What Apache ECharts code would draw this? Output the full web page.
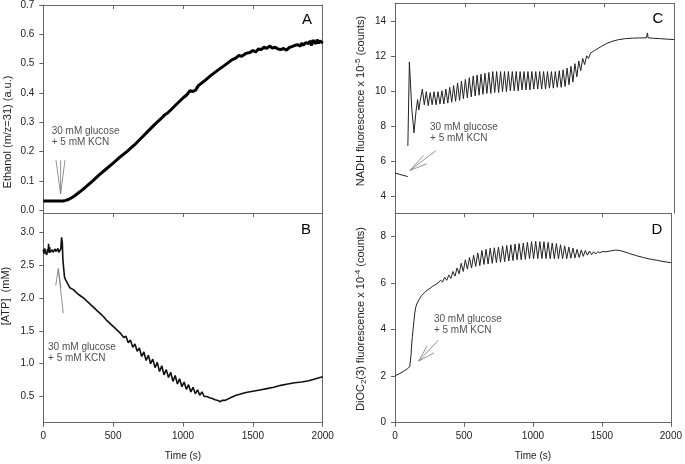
<!DOCTYPE html>
<html><head><meta charset="utf-8">
<script src="https://cdn.jsdelivr.net/npm/echarts@6/dist/echarts.min.js"></script>
<style>html,body{margin:0;padding:0;background:#fff}#c{width:685px;height:464px}</style>
</head><body><div id="c"></div>
<script>
const FONT = "'Liberation Sans', Arial, sans-serif";
const panelLetters = ['A', 'B', 'C', 'D'];
const annotationText = '30 mM glucose\n+ 5 mM KCN';
const timeTicks = [0, 500, 1000, 1500, 2000];

// Panel A: ethanol (m/z=31)
const ethanol = [[0,0.032],[50,0.032],[100,0.032],[140,0.032],[160,0.034],[180,0.037],[200,0.042],[225,0.05],[250,0.059],[275,0.068],[300,0.078],[350,0.099],[400,0.121],[450,0.141],[500,0.161],[550,0.182],[600,0.201],[650,0.222],[700,0.246],[750,0.27],[800,0.294],[850,0.316],[870,0.326],[880,0.322],[890,0.332],[900,0.337],[950,0.36],[1000,0.383],[1030,0.395],[1050,0.408],[1070,0.405],[1090,0.41],[1110,0.425],[1150,0.44],[1200,0.46],[1250,0.478],[1300,0.495],[1350,0.513],[1380,0.52],[1400,0.528],[1420,0.525],[1450,0.535],[1480,0.538],[1500,0.545],[1520,0.54],[1540,0.55],[1560,0.548],[1580,0.556],[1600,0.552],[1620,0.56],[1640,0.553],[1660,0.556],[1680,0.55],[1700,0.548],[1720,0.552],[1740,0.546],[1760,0.555],[1780,0.558],[1800,0.562],[1820,0.565],[1840,0.56],[1850,0.57],[1860,0.563],[1880,0.572],[1900,0.568],[1910,0.578],[1920,0.562],[1930,0.58],[1940,0.575],[1950,0.568],[1960,0.582],[1970,0.57],[1980,0.578],[1990,0.572],[2000,0.57]];

// Panel B: [ATP] (mM)
const atp = [[0,2.74],[5,2.68],[10,2.76],[15,2.7],[20,2.73],[25,2.66],[30,2.75],[35,2.71],[38,2.83],[42,2.69],[45,2.78],[50,2.7],[55,2.73],[60,2.67],[65,2.74],[70,2.7],[75,2.72],[80,2.68],[85,2.75],[90,2.71],[95,2.73],[100,2.69],[105,2.76],[110,2.7],[115,2.72],[125,2.75],[131,2.93],[136,2.85],[140,2.6],[146,2.45],[152,2.32],[160,2.28],[170,2.25],[180,2.2],[190,2.16],[200,2.16],[215,2.13],[230,2.1],[250,2.06],[270,2.03],[290,2.0],[310,1.96],[330,1.92],[350,1.88],[370,1.84],[390,1.8],[410,1.76],[430,1.72],[450,1.67],[470,1.63],[490,1.59],[510,1.55],[530,1.51],[550,1.47],[560,1.47],[576,1.40],[592,1.42],[608,1.32],[624,1.36],[640,1.25],[656,1.30],[672,1.19],[688,1.24],[704,1.11],[720,1.18],[736,1.05],[752,1.13],[768,1.00],[784,1.07],[800,0.94],[816,1.02],[832,0.88],[848,0.97],[864,0.83],[880,0.91],[896,0.79],[912,0.87],[928,0.73],[944,0.82],[960,0.69],[976,0.77],[992,0.65],[1008,0.72],[1024,0.61],[1040,0.68],[1056,0.57],[1072,0.64],[1088,0.54],[1104,0.60],[1120,0.52],[1136,0.57],[1152,0.50],[1170,0.5],[1190,0.48],[1210,0.47],[1230,0.45],[1250,0.44],[1265,0.42],[1280,0.44],[1290,0.42],[1300,0.44],[1320,0.46],[1340,0.48],[1360,0.5],[1380,0.52],[1400,0.53],[1450,0.56],[1500,0.58],[1550,0.6],[1600,0.62],[1650,0.64],[1700,0.67],[1750,0.69],[1800,0.71],[1850,0.72],[1900,0.74],[1950,0.77],[2000,0.8]];

// Panel C: NADH fluorescence x 1e-5
const nadhPre = [[0,5.3],[91,5.1]];
const nadh = [[92,6.85],[103,11.65],[120,9.0],[136,7.6],[150,8.8],[162,9.5],[170,8.9],[180,9.4],[196,10.1],[210,9.2],[224,9.95],[238,9.15],[252,9.9],[266,9.2],[280,9.95],[294,9.2],[308,9.95],[322,9.25],[336,10.0],[350,9.25],[364,10.1],[378,9.3],[392,10.2],[406,9.35],[420,10.3],[434,9.4],[448,10.45],[462,9.45],[476,10.55],[490,9.55],[504,10.65],[518,9.6],[532,10.75],[546,9.65],[560,10.85],[574,9.7],[588,10.9],[602,9.75],[616,10.95],[630,9.8],[644,11.0],[658,9.85],[672,11.05],[686,9.85],[700,11.1],[714,9.9],[728,11.1],[742,9.9],[756,11.1],[770,9.95],[784,11.1],[798,9.95],[812,11.1],[826,10.0],[840,11.1],[854,10.0],[868,11.1],[882,10.0],[896,11.1],[910,10.05],[924,11.1],[938,10.05],[952,11.1],[966,10.05],[980,11.1],[994,10.1],[1008,11.1],[1022,10.1],[1036,11.1],[1050,10.1],[1064,11.1],[1078,10.1],[1092,11.1],[1106,10.15],[1120,11.1],[1134,10.15],[1148,11.1],[1162,10.2],[1176,11.15],[1190,10.2],[1204,11.2],[1218,10.25],[1232,11.3],[1246,10.35],[1260,11.4],[1274,10.5],[1288,11.55],[1302,10.8],[1316,11.7],[1330,11.15],[1344,11.85],[1358,11.5],[1372,12.0],[1386,11.85],[1400,12.15],[1414,12.05],[1428,12.3],[1442,12.25],[1460,12.45],[1480,12.55],[1520,12.72],[1560,12.84],[1600,12.92],[1650,12.98],[1700,13.01],[1750,13.02],[1800,13.03],[1808,13.3],[1812,13.03],[1850,13.0],[1900,12.98],[1950,12.95],[2000,12.93]];

// Panel D: DiOC2(3) fluorescence x 1e-4
const dioc = [[0,2.02],[30,2.1],[60,2.2],[90,2.32],[107,2.41],[112,2.45],[116,2.9],[120,3.3],[126,3.7],[131,4.0],[137,4.35],[143,4.7],[150,4.95],[158,5.1],[167,5.15],[175,5.3],[183,5.38],[191,5.45],[200,5.5],[215,5.6],[225,5.65],[239,5.72],[255,5.78],[270,5.85],[290,5.92],[311,6.0],[330,6.12],[345,6.05],[360,6.25],[375,6.12],[390,6.35],[405,6.2],[420,6.5],[435,6.3],[450,6.65],[465,6.4],[480,6.85],[495,6.5],[510,7.0],[525,6.6],[540,7.1],[555,6.65],[570,7.2],[585,6.72],[600,7.3],[615,6.75],[630,7.4],[645,6.8],[660,7.45],[675,6.82],[690,7.5],[705,6.85],[720,7.52],[735,6.88],[750,7.55],[765,6.9],[780,7.6],[795,6.92],[810,7.62],[825,6.95],[840,7.65],[855,6.97],[870,7.68],[885,7.0],[900,7.7],[915,7.0],[930,7.72],[945,7.02],[960,7.75],[975,7.05],[990,7.78],[1005,7.05],[1020,7.8],[1035,7.05],[1050,7.78],[1065,7.05],[1080,7.78],[1095,7.05],[1110,7.75],[1125,7.05],[1140,7.72],[1155,7.05],[1170,7.7],[1185,7.05],[1200,7.65],[1215,7.05],[1230,7.6],[1245,7.05],[1260,7.55],[1275,7.07],[1290,7.5],[1305,7.08],[1320,7.45],[1335,7.1],[1350,7.42],[1365,7.15],[1380,7.4],[1395,7.2],[1410,7.38],[1425,7.22],[1440,7.35],[1455,7.25],[1470,7.35],[1485,7.3],[1500,7.35],[1530,7.35],[1560,7.38],[1600,7.42],[1630,7.4],[1660,7.35],[1700,7.27],[1750,7.18],[1800,7.1],[1850,7.03],[1900,6.98],[1950,6.92],[2000,6.88]];

// Arrows: tip first, then the three stroke ends
const arrowA = [[124,0.056],[124,0.171],[91,0.171],[155,0.171]];
const arrowB = [[107,2.45],[143,1.77],[89,2.19],[127,2.15]];
const arrowC = [[107,5.45],[292,6.58],[203,6.29],[227,5.83]];
const arrowD = [[172,2.65],[315,3.55],[232,3.30],[282,3.0]];
// Annotation anchor (left edge, vertical middle of the two lines)
const noteA = [60, 0.252];
const noteB = [34, 1.16];
const noteC = [251, 7.62];
const noteD = [282, 4.22];

const grids = [
  {left: 43.3, top: 4, width: 279.4, height: 209},
  {left: 43.3, top: 213, width: 279.4, height: 209.7},
  {left: 395, top: 3.3, width: 279.3, height: 210},
  {left: 395, top: 213.3, width: 279.3, height: 209.4}
];
const AX = '#666';
const TXT = '#222';

const xAxes = [], yAxes = [];
grids.forEach((g, i) => {
  const bottomShown = (i === 1 || i === 3);
  xAxes.push({
    type: 'value', gridIndex: i, position: 'bottom', min: timeTicks[0], max: timeTicks[timeTicks.length - 1],
    interval: timeTicks[1] - timeTicks[0],
    show: bottomShown,
    axisLine: {show: true, onZero: false, lineStyle: {color: AX, width: 1}},
    axisTick: {show: true, inside: false, length: 4, lineStyle: {color: AX}},
    axisLabel: {show: true, margin: 9, fontFamily: FONT, fontSize: 10, color: TXT, formatter: v => String(v)},
    splitLine: {show: false},
    name: bottomShown ? 'Time (s)' : '', nameLocation: 'middle', nameGap: 29,
    nameTextStyle: {fontFamily: FONT, fontSize: 10, color: TXT}
  });
  xAxes.push({
    type: 'value', gridIndex: i, position: 'top', min: timeTicks[0], max: timeTicks[timeTicks.length - 1],
    interval: timeTicks[1] - timeTicks[0],
    axisLine: {show: true, onZero: false, lineStyle: {color: AX, width: 1}},
    axisTick: {show: true, inside: true, length: 4, lineStyle: {color: AX}},
    axisLabel: {show: false}, splitLine: {show: false}
  });
});

const yCfg = [
  {min: -0.009, max: 0.7, splitNumber: 7, showMinLabel: false, showMaxLabel: true, fmt: v => v.toFixed(1)},
  {min: 0.1, max: 3.3, splitNumber: 6, showMinLabel: false, showMaxLabel: false, fmt: v => v.toFixed(1)},
  {min: 3, max: 15, splitNumber: 6, showMinLabel: false, showMaxLabel: false, fmt: v => String(Math.round(v))},
  {min: 0, max: 9, interval: 2, showMinLabel: true, showMaxLabel: false, fmt: v => String(Math.round(v))}
];
yCfg.forEach((c, i) => {
  const ax = {
    type: 'value', gridIndex: i, position: 'left', min: c.min, max: c.max,
    splitNumber: c.splitNumber,
    axisLine: {show: true, onZero: false, lineStyle: {color: AX, width: 1}},
    axisTick: {show: true, inside: false, length: 4, lineStyle: {color: AX}},
    axisLabel: {show: true, margin: 9, fontFamily: FONT, fontSize: 10, color: TXT,
      showMinLabel: c.showMinLabel, showMaxLabel: c.showMaxLabel, formatter: c.fmt},
    splitLine: {show: false}
  };
  if (c.interval) ax.interval = c.interval;
  yAxes.push(ax);
  yAxes.push({
    type: 'value', gridIndex: i, position: 'right', min: c.min, max: c.max,
    axisLine: {show: true, onZero: false, lineStyle: {color: AX, width: 1}},
    axisTick: {show: false}, axisLabel: {show: false}, splitLine: {show: false}
  });
});

function lineSeries(i, data, color, width) {
  return {type: 'line', xAxisIndex: 2 * i, yAxisIndex: 2 * i, data: data,
    showSymbol: false, symbol: 'none', clip: true, silent: true,
    lineStyle: {color: color, width: width}};
}
function arrowSeries(i, arr) {
  const out = [];
  for (let k = 1; k < arr.length; k++) out.push(lineSeries(i, [arr[k], arr[0]], '#777', 0.8));
  return out;
}
function noteSeries(i, pos) {
  return {type: 'scatter', xAxisIndex: 2 * i, yAxisIndex: 2 * i, data: [pos],
    symbolSize: 0, silent: true,
    label: {show: true, position: 'right', distance: 0, formatter: annotationText,
      fontFamily: FONT, fontSize: 10, lineHeight: 11, color: TXT}};
}

const series = [
  lineSeries(0, ethanol, '#000', 3),
  lineSeries(1, atp, '#111', 1.6),
  lineSeries(2, nadhPre, '#222', 1),
  lineSeries(2, nadh, '#222', 1),
  lineSeries(3, dioc, '#222', 1),
  ...arrowSeries(0, arrowA), ...arrowSeries(1, arrowB),
  ...arrowSeries(2, arrowC), ...arrowSeries(3, arrowD),
  noteSeries(0, noteA), noteSeries(1, noteB), noteSeries(2, noteC), noteSeries(3, noteD)
];

const letterPos = [[307, 20], [306, 230], [658, 19], [657, 229.5]];
const graphics = panelLetters.map((t, k) => ({
  type: 'text', x: letterPos[k][0], y: letterPos[k][1], silent: true,
  style: {text: t, fill: '#000', font: '15px ' + FONT, fontSize: 15, fontFamily: FONT,
    align: 'center', verticalAlign: 'middle', textAlign: 'center', textVerticalAlign: 'middle'}
}));
const yTitles = [
  {x: 8, y: 132, text: 'Ethanol (m/z=31) (a.u.)'},
  {x: 6, y: 296, text: '[ATP]  (mM)'},
  {x: 361, y: 101, text: 'NADH fluorescence x 10{sup|-5} (counts)'},
  {x: 361, y: 319, text: 'DiOC{sub|2}(3) fluorescence x 10{sup|-4} (counts)'}
];
yTitles.forEach(t => graphics.push({
  type: 'text', x: t.x, y: t.y, rotation: Math.PI / 2, silent: true,
  style: {text: t.text, fill: TXT, fontSize: 11, fontFamily: FONT, lineHeight: 14,
    align: 'center', verticalAlign: 'middle', textAlign: 'center', textVerticalAlign: 'middle',
    rich: {
      sup: {fontSize: 8, fontFamily: FONT, fill: TXT, lineHeight: 8, verticalAlign: 'top'},
      sub: {fontSize: 8, fontFamily: FONT, fill: TXT, lineHeight: 8, verticalAlign: 'bottom'}
    }}
}));

const chart = echarts.init(document.getElementById('c'), null, {renderer: 'canvas'});
chart.setOption({
  animation: false,
  backgroundColor: '#fff',
  grid: grids,
  xAxis: xAxes,
  yAxis: yAxes,
  series: series,
  graphic: graphics
});
</script></body></html>
